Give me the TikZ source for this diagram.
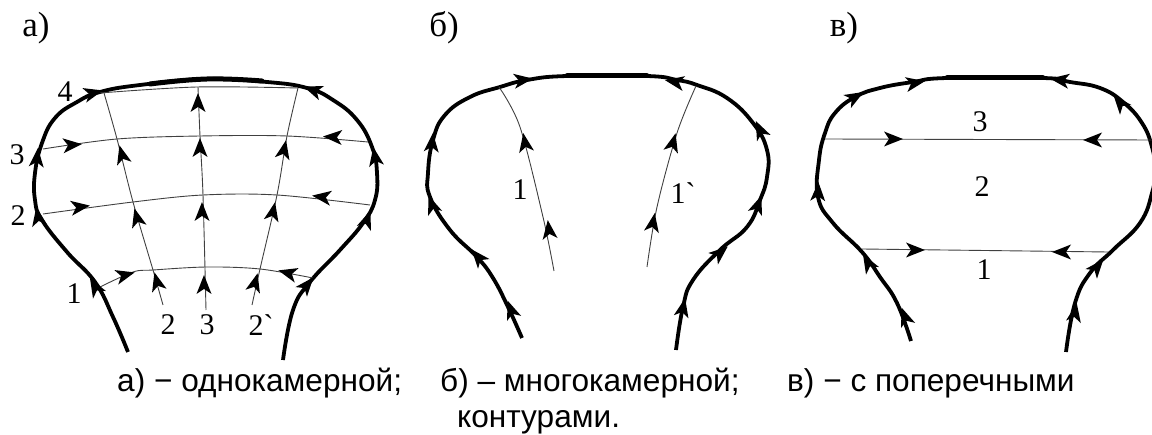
\documentclass[tikz,border=0pt]{standalone}
\usepackage{fontspec}
\newfontfamily\numfont{Liberation Serif}
\newfontfamily\capfont{Liberation Sans}
\newcommand\hd[3]{\fill[black,shift={(#1,#2)},rotate=#3] (10,0) -- (-9,-7.5) -- (-4,0) -- (-9,7.5) -- cycle;}
\tikzset{
  wall/.style={line width=3.8pt,line cap=butt,line join=round,smooth,tension=0.75},
  crest/.style={line width=5pt,line cap=round,smooth,tension=0.75},
  flow/.style={line width=0.9pt,black!75,smooth,tension=0.55},
  lbl/.style={font=\numfont\fontsize{30}{32}\selectfont,inner sep=0pt},
  ttl/.style={font=\numfont\fontsize{35}{37}\selectfont,inner sep=0pt},
  captext/.style={font=\capfont\fontsize{31.6}{34}\selectfont,inner sep=0pt,anchor=base west}
}
\begin{document}
\begin{tikzpicture}[x=1pt,y=-1pt]
\useasboundingbox (0,0) rectangle (1152,435);
\clip (0,0) rectangle (1152,435);
% panel a
\draw[wall] plot coordinates {(128,352) (113,317) (95,282) (67,252) (42,220) (35,200) (35,173) (42,143) (55,118) (77,102) (100,92) (140,85) (207,79) (267,82) (307,88) (333,100) (357,120) (372,147) (377,173) (375,200) (363,223) (340,250) (310,282) (293,310) (283,360)};
\draw[crest] plot coordinates {(150,84) (207,79) (262,81)};
\draw[flow] plot coordinates {(100,287) (133,272) (153,270) (207,267) (260,269) (313,278)};
\draw[flow] plot coordinates {(43,214) (133,202) (203,195) (277,195) (370,205)};
\draw[flow] plot coordinates {(43,149) (117,139) (200,136) (287,136) (368,142)};
\draw[flow] plot coordinates {(100,93) (197,87) (298,88)};
\draw[flow] plot coordinates {(163,305) (153,270) (133,202) (117,139) (104,93)};
\draw[flow] plot coordinates {(206,310) (203,195) (200,136) (198,87)};
\draw[flow] plot coordinates {(252,305) (260,269) (277,195) (287,136) (298,88)};
\hd{37}{158}{85}\hd{38}{217}{100}\hd{95}{287}{120}\hd{93}{93}{15}\hd{313}{90}{160}\hd{375}{157}{100}\hd{367}{220}{70}\hd{307}{285}{50}
\hd{125}{275}{15}\hd{288}{273}{165}\hd{80}{207}{8}\hd{322}{197}{172}\hd{72}{145}{5}\hd{333}{137}{177}
\hd{157}{282}{105}\hd{137}{218}{105}\hd{122}{155}{105}
\hd{204}{285}{90}\hd{202}{212}{90}\hd{200}{148}{90}\hd{198}{103}{90}
\hd{255}{283}{75}\hd{273}{212}{78}\hd{284}{150}{78}
\node[lbl] (a4) at (65,92) {4};
\node[lbl] (a3) at (17,155) {3};
\node[lbl] (a2) at (18,216) {2};
\node[lbl] (a1) at (74,294) {1};
\node[lbl] (ab2) at (168,325) {2};
\node[lbl] (ab3) at (207,325) {3};
\node[lbl] (ab2p) at (261,325) {2`};
\node[ttl] (ta) at (36,28) {а)};
% panel b
\draw[wall] plot coordinates {(522,338) (508,307) (493,278) (477,257) (450,230) (430,197) (428,173) (433,140) (445,115) (470,97) (500,87) (527,80) (567,76) (647,76) (677,80) (697,85) (727,98) (753,123) (767,150) (767,177) (760,200) (747,227) (720,250) (693,280) (683,307) (676,350)};
\draw[crest] (567,76) -- (647,76);
\draw[flow] plot coordinates {(499,87) (520,127) (543,217) (554,271)};
\draw[flow] plot coordinates {(696,86) (677,133) (657,207) (647,267)};
\hd{432}{143}{85}\hd{432}{205}{110}\hd{478}{257}{130}\hd{511}{310}{110}\hd{523}{80}{8}\hd{675}{82}{170}\hd{760}{130}{115}\hd{758}{205}{70}\hd{720}{253}{40}\hd{683}{308}{78}
\hd{525}{143}{100}\hd{549}{230}{97}\hd{673}{143}{75}\hd{653}{223}{80}
\node[lbl] (b1) at (520,190) {1};
\node[lbl] (b1p) at (683,193) {1`};
\node[ttl] (tb) at (444,28) {б)};
% panel c
\draw[wall] plot coordinates {(911,341) (897,303) (880,277) (862,252) (833,223) (818,197) (819,160) (825,133) (835,113) (855,97) (880,88) (913,82) (947,78) (1043,78) (1070,82) (1100,88) (1123,102) (1142,123) (1152,147) (1155,170) (1152,193) (1140,223) (1113,250) (1090,273) (1075,303) (1066,352)};
\draw[crest] (947,78) -- (1043,78);
\draw[flow] (825,139) -- (1152,140);
\draw[flow] (862,249) -- (1108,252);
\hd{905}{317}{110}\hd{868}{263}{120}\hd{818}{192}{88}\hd{855}{97}{30}\hd{915}{83}{10}\hd{1060}{80}{172}\hd{1120}{103}{130}\hd{1097}{267}{50}\hd{1075}{313}{80}
\hd{893}{139}{0}\hd{1093}{140}{180}\hd{915}{250}{0}\hd{1062}{252}{180}
\node[lbl] (c3) at (980,122) {3};
\node[lbl] (c2) at (982,187) {2};
\node[lbl] (c1) at (984,270) {1};
\node[ttl] (tc) at (844,28) {в)};
% caption
\node[captext] (capa) at (117,392) {а) − однокамерной;};
\node[captext] (capb) at (440,392) {б) – многокамерной;};
\node[captext] (capc) at (787,392) {в) − с поперечными};
\node[captext] (capd) at (457,428) {контурами.};
\end{tikzpicture}
\end{document}
